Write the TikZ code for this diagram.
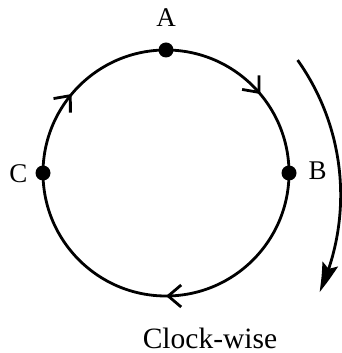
\documentclass[tikz,border=0pt]{standalone}
\usepackage{fontspec}
\setmainfont{Liberation Serif}
\usetikzlibrary{arrows.meta,bending,decorations.markings}

\tikzset{
  dot/.style={circle, fill, inner sep=0pt, minimum size=15pt},
  lbl/.style={anchor=base, font=\fontsize{27}{30}\selectfont},
  flow/.style={postaction={decorate}, decoration={markings,
    mark=at position 0.25 with {\arrow{Straight Barb[length=13pt,width=22pt]}},
    mark=at position 0.611 with {\arrow{Straight Barb[length=13pt,width=22pt]}},
    mark=at position 0.889 with {\arrow{Straight Barb[length=13pt,width=22pt]}}}}
}

\begin{document}
\begin{tikzpicture}[x=1pt, y=1pt, line width=2.8pt]
    \useasboundingbox (0,0) rectangle (342,353);
    \coordinate (O) at (166,180);
    % circle, clockwise from B
    \draw[flow] ([shift={(0:123)}]O) arc[start angle=0, end angle=-360, radius=123];
    \node[dot] (A) at ([shift={(90:123)}]O) {};
    \node[dot] (B) at ([shift={(0:123)}]O) {};
    \node[dot] (C) at ([shift={(180:123)}]O) {};
    \node[lbl] (labA) at (166,326) {A};
    \node[lbl] (labB) at (317.5,173) {B};
    \node[lbl] (labC) at (18.5,170) {C};
    % big clockwise arrow
    \coordinate (s) at (297.6,292.9);
    \draw[-{Stealth[length=30pt,width=16pt,inset=5pt,bend]}]
      (s) arc[start angle=35.4, end angle=-24.6, radius=233];
    \node[lbl, font=\fontsize{29.5}{34}\selectfont] (cw) at (210,5) {Clock-wise};
  \end{tikzpicture}
\end{document}
